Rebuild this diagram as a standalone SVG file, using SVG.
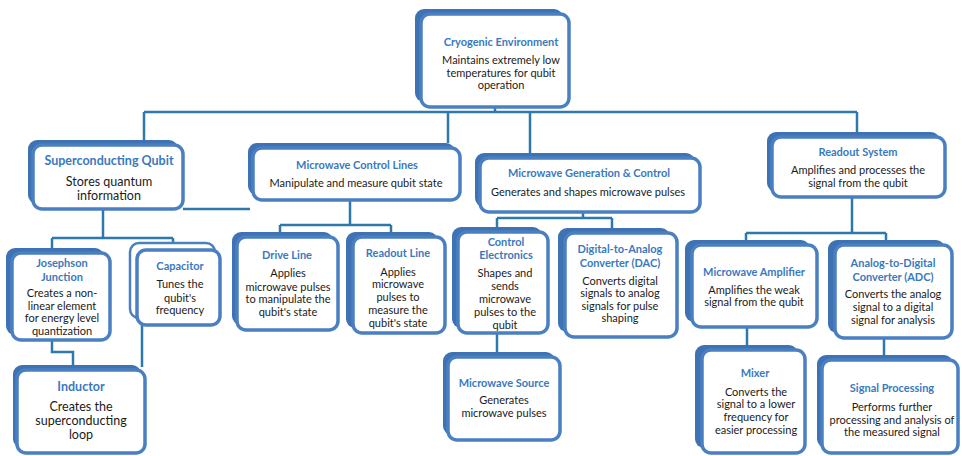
<svg xmlns="http://www.w3.org/2000/svg" width="962" height="456" viewBox="0 0 962 456">
<style>
.bk{fill:#3f72b3}
.fr{fill:#fff;stroke:#4a7fc1;stroke-width:3.5}
.ol{fill:#fff;stroke:#4a7fc1;stroke-width:2.5}
.t{font-family:Lato,"Liberation Sans",sans-serif;font-weight:bold;font-size:11px;fill:#3a79c0;text-anchor:middle}
.b{font-family:Lato,"Liberation Sans",sans-serif;font-size:11px;fill:#1a1a1a;text-anchor:middle}
.big .t{font-size:12.5px}
.big .b{font-size:12.5px}
.cn{fill:none;stroke:#2f79aa;stroke-width:2.5}
</style>
<rect width="962" height="456" fill="#fff"/>
<g id="connectors" class="cn">
<path d="M144,112 H857 M144,112 V140 M448,112 V143 M530,112 V153 M857,112 V132 M495,107 V112"/>
<path d="M183,209 H250"/>
<path d="M103,209 V238 M52,238 H173 M52,238 V248 M173,238 V243"/>
<path d="M52,340 V352 H73 V365 M142,325 V367"/>
<path d="M350,200 V225 M280,225 H391 M280,225 V232 M391,225 V232"/>
<path d="M583,212 V218 M497,218 H612 M497,218 V227 M612,218 V228 M497,333 V352"/>
<path d="M852,197 V233 M746,233 H886 M746,233 V240 M886,233 V240 M747,327 V345 M884,338 V355"/>
</g>
<g id="cryo">
<rect class="bk" x="415" y="9" width="148" height="93" rx="9"/>
<rect class="fr" x="421" y="14" width="148" height="93" rx="9"/>
<text class="t" x="501" y="46">Cryogenic Environment</text>
<text class="b" x="501" y="64">Maintains extremely low</text>
<text class="b" x="501" y="77">temperatures for qubit</text>
<text class="b" x="501" y="89">operation</text>
</g>
<g id="sq" class="big">
<rect class="bk" x="28" y="140" width="150" height="64" rx="9"/>
<rect class="fr" x="33" y="145" width="150" height="64" rx="9"/>
<text class="t" x="109" y="165">Superconducting Qubit</text>
<text class="b" x="109" y="186">Stores quantum</text>
<text class="b" x="109" y="200">information</text>
</g>
<g id="mcl">
<rect class="bk" x="248" y="143" width="207" height="52" rx="9"/>
<rect class="fr" x="253" y="148" width="207" height="52" rx="9"/>
<text class="t" x="357" y="169">Microwave Control Lines</text>
<text class="b" x="356" y="187">Manipulate and measure qubit state</text>
</g>
<g id="mgc">
<rect class="bk" x="475" y="153" width="220" height="54" rx="9"/>
<rect class="fr" x="480" y="158" width="220" height="54" rx="9"/>
<text class="t" x="589" y="177">Microwave Generation &amp; Control</text>
<text class="b" x="588" y="196">Generates and shapes microwave pulses</text>
</g>
<g id="rs">
<rect class="bk" x="767" y="132" width="173" height="60" rx="9"/>
<rect class="fr" x="772" y="137" width="173" height="60" rx="9"/>
<text class="t" x="858" y="156">Readout System</text>
<text class="b" x="858" y="174">Amplifies and processes the</text>
<text class="b" x="858" y="187">signal from the qubit</text>
</g>
<g id="jj">
<rect class="bk" x="6" y="248" width="98" height="87" rx="9"/>
<rect class="fr" x="12" y="253" width="98" height="87" rx="9"/>
<text class="t" x="62" y="267">Josephson</text>
<text class="t" x="62" y="281">Junction</text>
<text class="b" x="62" y="297">Creates a non-</text>
<text class="b" x="62" y="310">linear element</text>
<text class="b" x="62" y="322">for energy level</text>
<text class="b" x="62" y="335">quantization</text>
</g>
<g id="cap">
<rect class="ol" x="130" y="243" width="85" height="75" rx="9"/>
<rect class="fr" x="137" y="250" width="83" height="75" rx="9"/>
<text class="t" x="180" y="270">Capacitor</text>
<text class="b" x="180" y="288">Tunes the</text>
<text class="b" x="180" y="302">qubit's</text>
<text class="b" x="180" y="314">frequency</text>
</g>
<g id="drive">
<rect class="bk" x="232" y="232" width="101" height="93" rx="9"/>
<rect class="fr" x="237" y="237" width="101" height="93" rx="9"/>
<text class="t" x="287" y="259">Drive Line</text>
<text class="b" x="288" y="277">Applies</text>
<text class="b" x="288" y="291">microwave pulses</text>
<text class="b" x="288" y="303">to manipulate the</text>
<text class="b" x="288" y="316">qubit's state</text>
</g>
<g id="rl">
<rect class="bk" x="346" y="232" width="92" height="96" rx="9"/>
<rect class="fr" x="353" y="237" width="92" height="96" rx="9"/>
<text class="t" x="398" y="257">Readout Line</text>
<text class="b" x="398" y="276">Applies</text>
<text class="b" x="398" y="288">microwave</text>
<text class="b" x="398" y="301">pulses to</text>
<text class="b" x="398" y="314">measure the</text>
<text class="b" x="398" y="327">qubit's state</text>
</g>
<g id="ce">
<rect class="bk" x="452" y="227" width="90" height="101" rx="9"/>
<rect class="fr" x="458" y="232" width="90" height="101" rx="9"/>
<text class="t" x="506" y="246">Control</text>
<text class="t" x="506" y="259">Electronics</text>
<text class="b" x="505" y="277">Shapes and</text>
<text class="b" x="505" y="290">sends</text>
<text class="b" x="505" y="303">microwave</text>
<text class="b" x="505" y="316">pulses to the</text>
<text class="b" x="505" y="329">qubit</text>
</g>
<g id="dac">
<rect class="bk" x="558" y="228" width="112" height="104" rx="9"/>
<rect class="fr" x="565" y="233" width="112" height="104" rx="9"/>
<text class="t" x="620" y="253">Digital-to-Analog</text>
<text class="t" x="620" y="267">Converter (DAC)</text>
<text class="b" x="620" y="285">Converts digital</text>
<text class="b" x="620" y="297">signals to analog</text>
<text class="b" x="620" y="310">signals for pulse</text>
<text class="b" x="620" y="322">shaping</text>
</g>
<g id="ma">
<rect class="bk" x="685" y="240" width="125" height="82" rx="9"/>
<rect class="fr" x="692" y="245" width="125" height="82" rx="9"/>
<text class="t" x="754" y="276">Microwave Amplifier</text>
<text class="b" x="754" y="294">Amplifies the weak</text>
<text class="b" x="754" y="306">signal from the qubit</text>
</g>
<g id="adc">
<rect class="bk" x="828" y="240" width="117" height="93" rx="9"/>
<rect class="fr" x="835" y="245" width="117" height="93" rx="9"/>
<text class="t" x="893" y="267">Analog-to-Digital</text>
<text class="t" x="893" y="281">Converter (ADC)</text>
<text class="b" x="893" y="298">Converts the analog</text>
<text class="b" x="893" y="311">signal to a digital</text>
<text class="b" x="893" y="324">signal for analysis</text>
</g>
<g id="ind" class="big">
<rect class="bk" x="13" y="365" width="128" height="83" rx="9"/>
<rect class="fr" x="17" y="370" width="128" height="83" rx="9"/>
<text class="t" x="81" y="391">Inductor</text>
<text class="b" x="81" y="411">Creates the</text>
<text class="b" x="81" y="425">superconducting</text>
<text class="b" x="81" y="439">loop</text>
</g>
<g id="ms">
<rect class="bk" x="443" y="352" width="112" height="83" rx="9"/>
<rect class="fr" x="448" y="357" width="112" height="83" rx="9"/>
<text class="t" x="504" y="387">Microwave Source</text>
<text class="b" x="504" y="404">Generates</text>
<text class="b" x="504" y="417">microwave pulses</text>
</g>
<g id="mixer">
<rect class="bk" x="695" y="345" width="103" height="103" rx="9"/>
<rect class="fr" x="702" y="350" width="103" height="103" rx="9"/>
<text class="t" x="755" y="377">Mixer</text>
<text class="b" x="756" y="396">Converts the</text>
<text class="b" x="756" y="408">signal to a lower</text>
<text class="b" x="756" y="421">frequency for</text>
<text class="b" x="756" y="434">easier processing</text>
</g>
<g id="sp">
<rect class="bk" x="817" y="355" width="136" height="93" rx="9"/>
<rect class="fr" x="822" y="360" width="136" height="93" rx="9"/>
<text class="t" x="892" y="392">Signal Processing</text>
<text class="b" x="892" y="411">Performs further</text>
<text class="b" x="892" y="424">processing and analysis of</text>
<text class="b" x="892" y="436">the measured signal</text>
</g>
</svg>
